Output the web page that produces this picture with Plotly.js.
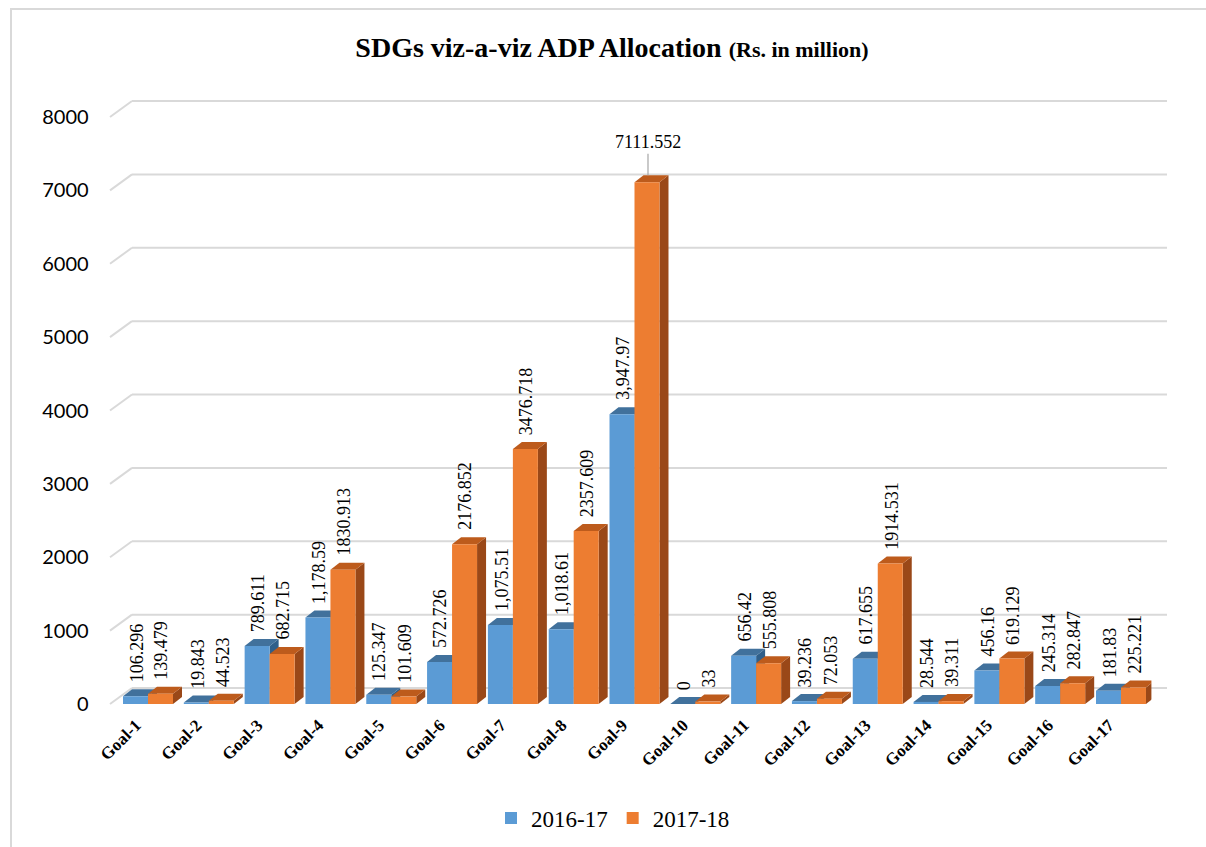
<!DOCTYPE html>
<html><head><meta charset="utf-8">
<script src="https://cdn.plot.ly/plotly-3.0.1.min.js"></script>
<style>
html,body{margin:0;padding:0;background:#fff;overflow:hidden}
#chart{width:1206px;height:847px;position:absolute;left:0;top:0}
#frame{position:absolute;left:10px;top:8px;width:1300px;height:900px;border-left:2px solid #d9d9d9;border-top:2px solid #d9d9d9;pointer-events:none}
</style></head><body>
<div id="chart"></div><div id="frame"></div>
<script>
// ---------- data ----------
const categories = ['Goal-1','Goal-2','Goal-3','Goal-4','Goal-5','Goal-6','Goal-7','Goal-8','Goal-9','Goal-10','Goal-11','Goal-12','Goal-13','Goal-14','Goal-15','Goal-16','Goal-17'];
const series2016 = [106.296, 19.843, 789.611, 1178.59, 125.347, 572.726, 1075.51, 1018.61, 3947.97, 0, 656.42, 39.236, 617.655, 28.544, 456.16, 245.314, 181.83];
const series2017 = [139.479, 44.523, 682.715, 1830.913, 101.609, 2176.852, 3476.718, 2357.609, 7111.552, 33, 555.808, 72.053, 1914.531, 39.311, 619.129, 282.847, 225.221];
const seriesNames = ['2016-17', '2017-18'];
const yTicks = [0, 1000, 2000, 3000, 4000, 5000, 6000, 7000, 8000];
const titleMain = 'SDGs viz-a-viz ADP Allocation';
const titleUnit = '(Rs. in million)';

// ---------- geometry / style ----------
const W = 1206, H = 847;
const yMax = 8000;
const barsLeft = 117.6, barsRight = 1151.4, barsBottomPx = 704, barsTopPx = 117;
const wallDX = 22, wallDY = 16;           // back wall offset (px)
const gridLeft = 132, gridRight = 1167;
const depthX = 9, depthY = 7;             // bar depth (px)
const barW = 0.411;                       // bar width in category units
const pxPerCat = (barsRight - barsLeft) / categories.length;
const pxPerUnit = (barsBottomPx - barsTopPx) / yMax;
const dxC = depthX / pxPerCat, dyU = depthY / pxPerUnit;

const colors = {
  blue: '#5b9bd5', blueTop: '#41719c', blueSide: '#2f5f8a',
  orange: '#ed7d31', orangeTop: '#bd5b1c', orangeSide: '#9a4818',
  grid: '#d9d9d9'
};
const serif = 'Liberation Serif, Times New Roman, serif';

const offsets = [-barW, 0];
const allSeries = [series2016, series2017];
const fronts = [colors.blue, colors.orange];
const tops = [colors.blueTop, colors.orangeTop];
const sides = [colors.blueSide, colors.orangeSide];

const traces = allSeries.map((vals, s) => ({
  type: 'bar', name: seriesNames[s], x: categories, y: vals,
  xaxis: 'x', yaxis: 'y', offset: offsets[s], width: barW,
  marker: {color: fronts[s], line: {width: 0}}, hoverinfo: 'x+y+name'
}));

const shapes = [];
// back-wall gridlines with diagonal stubs (axis decoration, from tick values)
yTicks.forEach(t => {
  const back = barsBottomPx - wallDY - t * pxPerUnit;
  const front = barsBottomPx - t * pxPerUnit;
  shapes.push({type: 'line', xref: 'paper', yref: 'paper', layer: 'below',
    x0: (gridLeft - wallDX) / W, x1: gridLeft / W,
    y0: 1 - front / H, y1: 1 - back / H,
    line: {color: colors.grid, width: 2}});
  shapes.push({type: 'line', xref: 'paper', yref: 'paper', layer: 'below',
    x0: gridLeft / W, x1: gridRight / W,
    y0: 1 - back / H, y1: 1 - back / H,
    line: {color: colors.grid, width: 2}});
});
// 3D faces derived from data
allSeries.forEach((vals, s) => {
  vals.forEach((v, i) => {
    const x0 = i + offsets[s], x1 = x0 + barW;
    const top = `M${x0},${v} L${x0 + dxC},${v + dyU} L${x1 + dxC},${v + dyU} L${x1},${v} Z`;
    const side = `M${x1},0 L${x1 + dxC},${dyU} L${x1 + dxC},${v + dyU} L${x1},${v} Z`;
    shapes.push({type: 'path', xref: 'x', yref: 'y', layer: 'below', path: side,
      fillcolor: sides[s], line: {width: 0}});
    shapes.push({type: 'path', xref: 'x', yref: 'y', layer: 'below', path: top,
      fillcolor: tops[s], line: {width: 0}});
  });
});

// data labels
const annotations = [];
const maxV = Math.max(...series2017);
allSeries.forEach((vals, s) => {
  vals.forEach((v, i) => {
    const label = s === 0 ? v.toLocaleString('en-US', {maximumFractionDigits: 3}) : String(v);
    const cx = (offsets[s] + barW / 2) * pxPerCat + 1;
    if (s === 1 && v === maxV) {
      annotations.push({x: categories[i], y: v, xref: 'x', yref: 'y', text: label,
        showarrow: true, arrowhead: 0, arrowwidth: 1.2, arrowcolor: '#a6a6a6',
        ax: 0, ay: -40, standoff: 7, xshift: cx,
        font: {family: serif, size: 18, color: '#000'}});
    } else {
      annotations.push({x: categories[i], y: v, xref: 'x', yref: 'y', text: label,
        textangle: -90, showarrow: false, xanchor: 'center', yanchor: 'bottom',
        xshift: cx, yshift: 12,
        font: {family: serif, size: 18, color: '#000'}});
    }
  });
});

const layout = {
  width: W, height: H,
  margin: {l: 0, r: 0, t: 0, b: 0},
  paper_bgcolor: 'rgba(0,0,0,0)', plot_bgcolor: 'rgba(0,0,0,0)',
  barmode: 'overlay',
  showlegend: true,
  title: {
    text: `<b>${titleMain} <span style="font-size:22px">${titleUnit}</span></b>`,
    font: {family: serif, size: 28, color: '#000'},
    x: 612 / W, xanchor: 'center', xref: 'paper',
    y: 1 - 47 / H, yanchor: 'middle', yref: 'container'
  },
  xaxis: {domain: [barsLeft / W, barsRight / W], anchor: 'y', type: 'category',
    range: [-0.5, categories.length - 0.5], showgrid: false, zeroline: false, showline: false,
    ticks: '', tickangle: -45, ticklabelstandoff: 7, ticklabelshift: -12,
    tickfont: {family: serif, size: 17, color: '#000', weight: 'bold'}},
  yaxis: {domain: [(H - barsBottomPx) / H, (H - barsTopPx) / H], anchor: 'x',
    range: [0, yMax], tickvals: yTicks, showgrid: false, zeroline: false, showline: false,
    ticks: '', ticklabelstandoff: 28,
    tickfont: {family: 'Lato, Liberation Sans, sans-serif', size: 20, color: '#000'}},
  legend: {orientation: 'h', x: 613 / W, xanchor: 'center', y: 1 - 818 / H, yanchor: 'middle',
    font: {family: serif, size: 23, color: '#000'}, itemwidth: 30, bgcolor: 'rgba(0,0,0,0)'},
  shapes: shapes,
  annotations: annotations
};

Plotly.newPlot('chart', traces, layout, {displayModeBar: false, staticPlot: true});
</script>
</body></html>
